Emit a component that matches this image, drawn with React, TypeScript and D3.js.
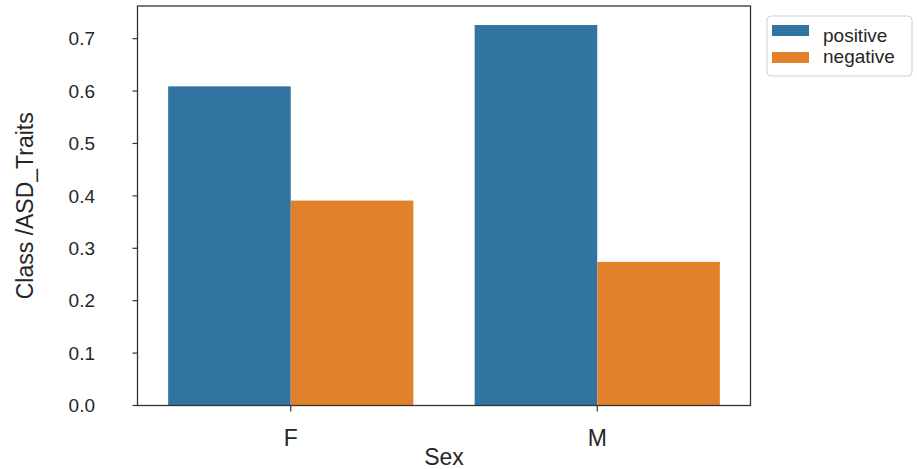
import React from "react";
import * as d3 from "d3";

const categories = ["F", "M"];
const seriesNames = ["positive", "negative"];
const positiveValues = [0.609, 0.726];
const negativeValues = [0.391, 0.274];
const yTicks = [0.0, 0.1, 0.2, 0.3, 0.4, 0.5, 0.6, 0.7];
const colors = ["#3274a1", "#e1812c"];
const xLabel = "Sex";
const yLabel = "Class /ASD_Traits";

const W = 917;
const H = 469;
const M = { left: 137.5, right: 750.5, top: 6, bottom: 405.5 };
const FONT = "'Liberation Sans', Arial, Helvetica, sans-serif";
const INK = "#262626";

export default function App() {
  const series = [positiveValues, negativeValues];
  const ymax = d3.max(series.flat())! * 1.05;
  const y = d3.scaleLinear().domain([0, ymax]).range([M.bottom, M.top]);
  const x = d3.scaleLinear().domain([-0.5, categories.length - 0.5]).range([M.left, M.right]);
  const groupWidth = 0.8;
  const barW = groupWidth / seriesNames.length;

  return (
    <svg width={W} height={H} style={{ position: "absolute", left: 0, top: 0, background: "#fff" }}>
      {/* bars */}
      {categories.map((c, i) =>
        series.map((vals, s) => {
          const x0 = x(i - groupWidth / 2 + s * barW);
          const x1 = x(i - groupWidth / 2 + (s + 1) * barW);
          return (
            <rect
              key={c + s}
              x={x0}
              y={y(vals[i])}
              width={x1 - x0}
              height={y(0) - y(vals[i])}
              fill={colors[s]}
            />
          );
        })
      )}
      {/* spines */}
      <rect
        x={M.left}
        y={M.top}
        width={M.right - M.left}
        height={M.bottom - M.top}
        fill="none"
        stroke="#333"
        strokeWidth={1.3}
      />
      {/* y ticks */}
      {yTicks.map((t) => (
        <g key={t}>
          <line x1={M.left - 5} x2={M.left} y1={y(t)} y2={y(t)} stroke="#333" strokeWidth={1.2} />
          <text
            x={95}
            y={y(t)}
            dy="0.35em"
            textAnchor="end"
            fontFamily={FONT}
            fontSize={19}
            fill={INK}
          >
            {t.toFixed(1)}
          </text>
        </g>
      ))}
      {/* x ticks */}
      {categories.map((c, i) => (
        <g key={c}>
          <line x1={x(i)} x2={x(i)} y1={M.bottom} y2={M.bottom + 6} stroke="#333" strokeWidth={1.2} />
          <text x={x(i)} y={446} textAnchor="middle" fontFamily={FONT} fontSize={23} fill={INK}>
            {c}
          </text>
        </g>
      ))}
      {/* axis labels */}
      <text
        x={(M.left + M.right) / 2}
        y={465}
        textAnchor="middle"
        fontFamily={FONT}
        fontSize={23}
        fill={INK}
      >
        {xLabel}
      </text>
      <text
        transform={`translate(33, ${(M.top + M.bottom) / 2}) rotate(-90)`}
        textAnchor="middle"
        fontFamily={FONT}
        fontSize={23}
        fill={INK}
      >
        {yLabel}
      </text>
      {/* legend */}
      <rect x={767} y={16} width={145} height={60} rx={4} fill="#fff" stroke="#d0d0d0" strokeWidth={1} />
      {seriesNames.map((n, s) => (
        <g key={n}>
          <rect x={772} y={25 + s * 27} width={37} height={11} fill={colors[s]} />
          <text x={823} y={42 + s * 21} fontFamily={FONT} fontSize={19} fill={INK}>
            {n}
          </text>
        </g>
      ))}
    </svg>
  );
}
